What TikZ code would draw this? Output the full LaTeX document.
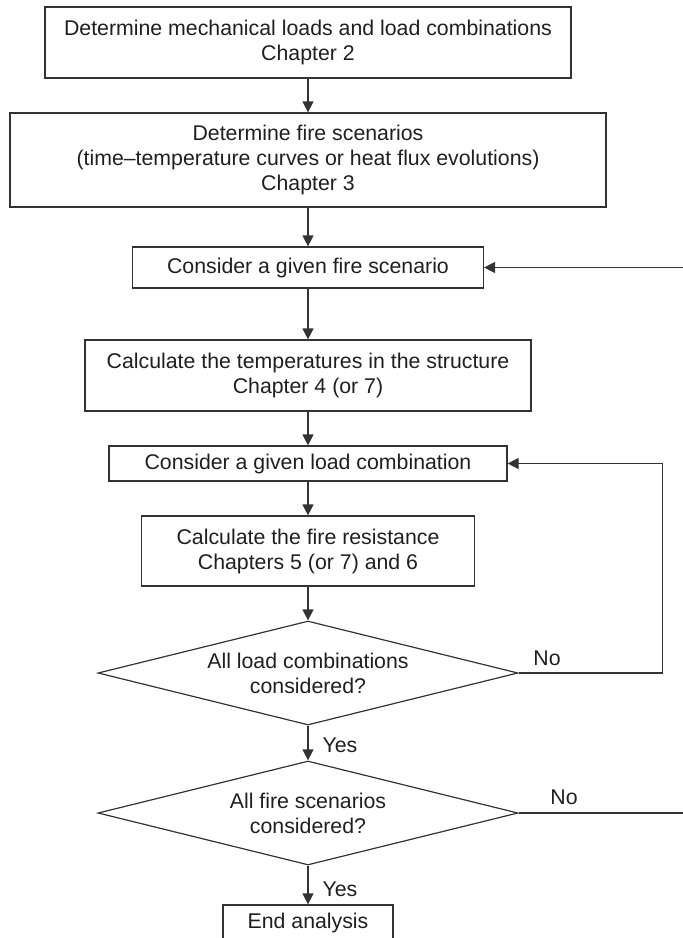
\documentclass[tikz,border=0pt]{standalone}
\usepackage{fontspec}
\setmainfont{Liberation Sans}
\usetikzlibrary{arrows.meta, shapes.geometric}

\begin{document}
\begin{tikzpicture}[
    x=1pt,
    y=-1pt,
    every node/.style={font=\fontsize{21.3}{25}\selectfont, text=black!88},
    process/.style={draw=black!80, line width=1.2pt, align=center, inner sep=2pt},
    decision/.style={draw=black!80, line width=1.2pt, diamond, aspect=4, inner sep=0pt, align=center, minimum width=420pt, minimum height=104pt},
    lbl/.style={inner sep=0pt},
    link/.style={draw=black!80, line width=1.2pt},
    >={Triangle[width=11pt,length=11pt]}
]
    \useasboundingbox (0,0) rectangle (683,938);
    \clip (0,0) rectangle (683,938);

    \node[process, minimum width=526pt, minimum height=71pt] (loads) at (308,42.5) {Determine mechanical loads and load combinations\\Chapter 2};
    \node[process, minimum width=596pt, minimum height=94pt] (fires) at (308,160) {Determine fire scenarios\\(time--temperature curves or heat flux evolutions)\\Chapter 3};
    \node[process, minimum width=351pt, minimum height=41pt] (onefire) at (308,267.5) {Consider a given fire scenario};
    \node[process, minimum width=446pt, minimum height=71pt] (temps) at (308,375.5) {Calculate the temperatures in the structure\\Chapter 4 (or 7)};
    \node[process, minimum width=398pt, minimum height=35pt] (oneload) at (308,463.5) {Consider a given load combination};
    \node[process, minimum width=333pt, minimum height=70pt] (resist) at (308,551) {Calculate the fire resistance\\Chapters 5 (or 7) and 6};
    \node[decision] (allloads) at (308,673) {All load combinations\\considered?};
    \node[decision] (allfires) at (308,813) {All fire scenarios\\considered?};
    \node[process, minimum width=170pt, minimum height=36pt] (finish) at (308,923) {End analysis};

    \coordinate (fireout) at (683,813);
    \coordinate (firein) at (683,267.5);

    \draw[link, ->] (loads) -- (fires);
    \draw[link, ->] (fires) -- (onefire);
    \draw[link, ->] (onefire) -- (temps);
    \draw[link, ->] (temps) -- (oneload);
    \draw[link, ->] (oneload) -- (resist);
    \draw[link, ->] (resist) -- (allloads);
    \draw[link, ->] (allloads) -- (allfires);
    \draw[link, ->] (allfires) -- (finish);
    \draw[link, ->] (allloads.east) -- ++(144,0) |- (oneload.east);
    \draw[link] (allfires.east) -- (fireout);
    \draw[link, ->] (firein) -- (onefire.east);

    \node[lbl] (noloads) at (547,658) {No};
    \node[lbl] (nofires) at (564,797) {No};
    \node[lbl] (yesloads) at (340,745) {Yes};
    \node[lbl] (yesfires) at (340,889) {Yes};
\end{tikzpicture}
\end{document}
